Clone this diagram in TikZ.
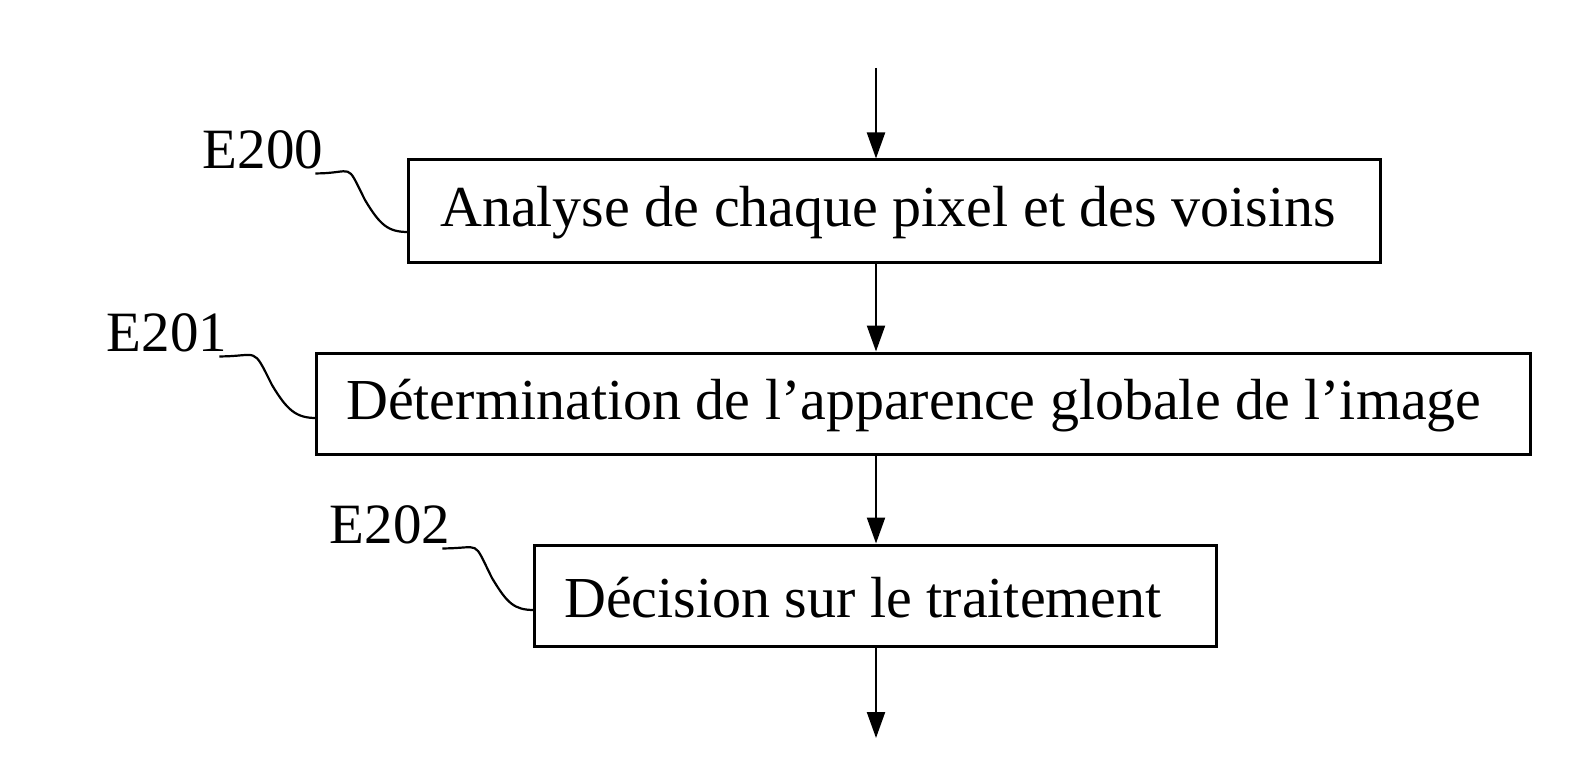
\documentclass[tikz,border=0pt]{standalone}
\usepackage{fontspec}
\setmainfont{Liberation Serif}
\usetikzlibrary{arrows.meta}
\begin{document}
\begin{tikzpicture}[x=1pt,y=-1pt,
 box/.style={draw,line width=3pt},
 txt/.style={font=\fontsize{58}{64}\selectfont,inner sep=0,anchor=west},
 lab/.style={font=\fontsize{57}{62}\selectfont,inner sep=0},
 arr/.style={line width=2.2pt,-{Triangle[length=26pt,width=18pt]}},
 wig/.style={line width=2.2pt}]
\useasboundingbox (0,0) rectangle (1569,762);
\node[box,minimum width=972pt,minimum height=102pt] (b1) at (894,211) {};
\node[box,minimum width=1214pt,minimum height=101pt] (b2) at (923,403.5) {};
\node[box,minimum width=682pt,minimum height=101pt] (b3) at (875,595.5) {};
\node[txt] (t1) at (440,213) {Analyse de chaque pixel et des voisins};
\node[txt] (t2) at (346,406) {Détermination de l’apparence globale de l’image};
\node[txt] (t3) at (564,598) {Décision sur le traitement};
\coordinate (top) at (876,68);
\coordinate (bot) at (876,738);
\draw[arr] (top) -- (b1.north -| top);
\draw[arr] (b1.south -| top) -- (b2.north -| top);
\draw[arr] (b2.south -| top) -- (b3.north -| top);
\draw[arr] (b3.south -| top) -- (bot);
\node[lab] (l0) at (263,150) {E200};
\node[lab] (l1) at (167,333) {E201};
\node[lab] (l2) at (390,525) {E202};
\draw[wig] (l0.south east) ++(-8,4) .. controls ++(40,0) and ++(-20,-40) .. (365,200) .. controls ++(15,25) and ++(-20,0) .. (408,232);
\draw[wig] (l1.south east) ++(-8,4) .. controls ++(40,0) and ++(-20,-40) .. (272,385) .. controls ++(15,25) and ++(-20,0) .. (316,418);
\draw[wig] (l2.south east) ++(-8,4) .. controls ++(40,0) and ++(-20,-40) .. (492,578) .. controls ++(15,25) and ++(-20,0) .. (534,610);
\end{tikzpicture}
\end{document}
